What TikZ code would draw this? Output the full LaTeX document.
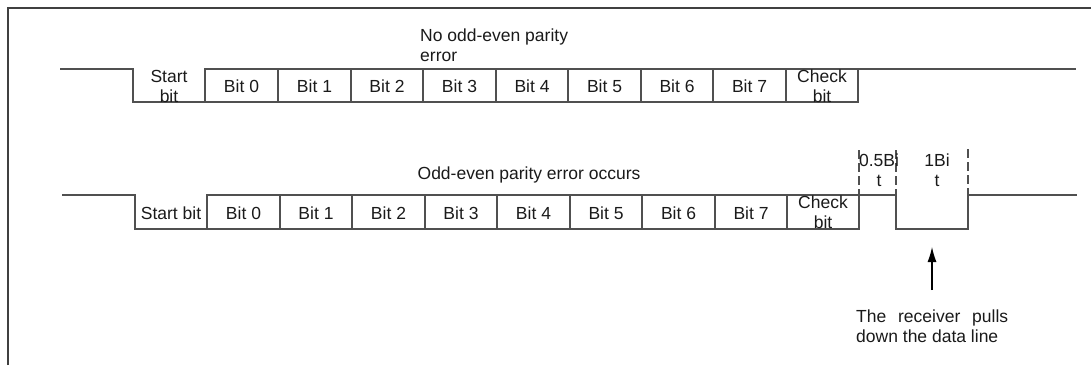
\documentclass[tikz,border=0pt]{standalone}
\usepackage{fontspec}
\setmainfont{Liberation Sans}
\usetikzlibrary{arrows.meta}
\definecolor{linegray}{HTML}{505050}
\definecolor{framegray}{HTML}{404040}
\definecolor{txt}{HTML}{1A1A1A}
\begin{document}
\begin{tikzpicture}[x=1pt,y=-1pt,
  wire/.style={draw=linegray,line width=1.1pt},
  frameline/.style={draw=framegray,line width=2pt},
  dashline/.style={draw=linegray,line width=1.1pt,dash pattern=on 9pt off 4pt},
  lbl/.style={inner sep=0pt,text=txt,font=\fontsize{17.5}{20}\selectfont,align=center},
  ptr/.style={draw=black,line width=1.1pt,-{Latex[length=15pt,width=9pt]}}]
\useasboundingbox (0,0) rectangle (1091,365);
% frame (top and left edges visible)
\draw[frameline] (8,365) -- (8,8) -- (1091,8);

% ---------- Row 1 : no parity error ----------
\draw[wire] (60,69) -- (133,69) -- (133,102) -- (858,102) -- (858,69) -- (1076,69);
\draw[wire] (205,102) -- (205,69) -- (858,69);
\foreach \x in {278,351,423,496,568,641,713,786} \draw[wire] (\x,69) -- (\x,102);
\node[lbl,anchor=north west,align=left] (t1) at (420,29) {No odd-even parity\\error};
\node[lbl] (s1) at (169,86) {Start\\bit};
\foreach \i/\x in {0/241.5,1/314.5,2/387,3/459.5,4/532,5/604.5,6/677,7/749.5}
  \node[lbl] (a\i) at (\x,86) {Bit \i};
\node[lbl] (c1) at (822,86) {Check\\bit};

% ---------- Row 2 : parity error ----------
\draw[wire] (62,195) -- (135,195) -- (135,229) -- (859,229) -- (859,195) -- (896,195)
  -- (896,229) -- (968,229) -- (968,195) -- (1077,195);
\draw[wire] (207,229) -- (207,195) -- (859,195);
\foreach \x in {280,352,425,497,570,642,715,787} \draw[wire] (\x,195) -- (\x,229);
\draw[dashline] (859,150) -- (859,195);
\draw[dashline] (896,150) -- (896,195);
\draw[dashline] (968,149) -- (968,195);
\node[lbl] (t2) at (529,175) {Odd-even parity error occurs};
\node[lbl] (s2) at (171,213) {Start bit};
\foreach \i/\x in {0/243.5,1/316,2/388.5,3/461,4/533.5,5/606,6/678.5,7/751}
  \node[lbl] (b\i) at (\x,213) {Bit \i};
\node[lbl] (c2) at (823,212) {Check\\bit};
\node[lbl] (h) at (879,170) {0.5Bi\\t};
\node[lbl] (o) at (937,170) {1Bi\\t};

% ---------- receiver note ----------
\node[lbl,anchor=north west,align=left] (note) at (856,310)
  {\hbox to 152pt{The\hfill receiver\hfill pulls}\\down the data line};
\coordinate (ab) at (932,290);
\coordinate (at) at (932,247);
\draw[ptr] (ab) -- (at);
\end{tikzpicture}
\end{document}
